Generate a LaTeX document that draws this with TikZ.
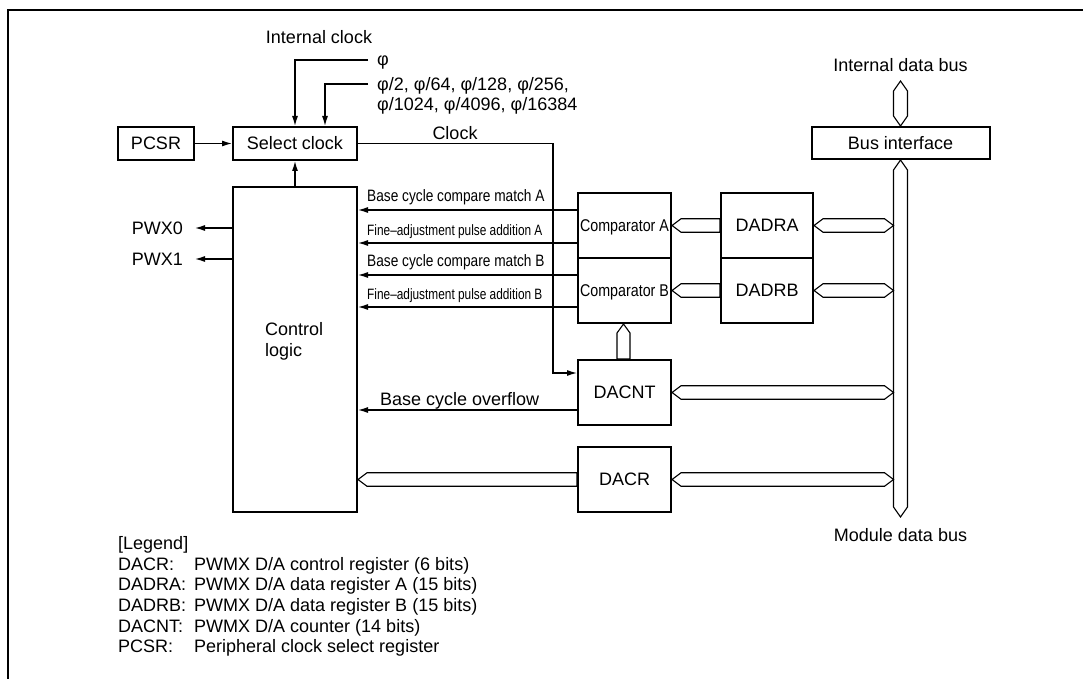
\documentclass[tikz,border=0pt]{standalone}
\usepackage{fontspec}
\setmainfont{Liberation Sans}
\usetikzlibrary{arrows.meta,calc}
\pgfdeclarelayer{bg}
\pgfsetlayers{bg,main}
\newcommand\myfs[1]{\fontsize{#1}{#1}\selectfont}
\newcommand\hbusboth[2]{\draw[bus] (#1) -- ($(#1)+(9,-6.75)$) -- ($(#2)+(-9,-6.75)$) -- (#2) -- ($(#2)+(-9,6.75)$) -- ($(#1)+(9,6.75)$) -- cycle;}
\newcommand\hbusleft[2]{\draw[bus] (#1) -- ($(#1)+(9,-6.75)$) -- ($(#2)+(0,-6.75)$) -- ($(#2)+(0,6.75)$) -- ($(#1)+(9,6.75)$) -- cycle;}
\newcommand\vbusup[2]{\draw[bus] (#1) -- ($(#1)+(6.5,9)$) -- ($(#2)+(6.5,0)$) -- ($(#2)+(-6.5,0)$) -- ($(#1)+(-6.5,9)$) -- cycle;}
\newcommand\vbusboth[2]{\draw[bus] (#1) -- ($(#1)+(7,10)$) -- ($(#2)+(7,-10)$) -- (#2) -- ($(#2)+(-7,-10)$) -- ($(#1)+(-7,10)$) -- cycle;}
\tikzset{
  box/.style={draw, line width=2pt, inner sep=0pt, text height=12.9pt, text depth=0pt, font=\myfs{18}},
  conn/.style={line width=1.2pt},
  arr/.style={conn, -{Latex[length=10pt,width=6pt]}},
  bus/.style={draw, line width=1.1pt, fill=white, line join=miter},
  lbl/.style={inner sep=0pt, font=\myfs{18}},
}
\begin{document}
\begin{tikzpicture}[x=1pt,y=-1pt]
\useasboundingbox (0,0) rectangle (1083,679);
% frame
\draw[line width=2pt] (1095,10) -- (8,10) -- (8,690);

% boxes
\node[box, minimum width=76pt, minimum height=33pt] (pcsr) at (156,143.5) {PCSR};
\node[box, minimum width=124pt, minimum height=33pt] (sel) at (295,143.5) {Select clock};
\node[box, minimum width=178pt, minimum height=32pt] (busif) at (900.5,143) {Bus interface};
\node[box, minimum width=124pt, minimum height=325pt] (ctrl) at (295,349.5) {};
\node[box, minimum width=93pt, minimum height=65pt] (compA) at (624.5,225.5) {\scalebox{0.84}[1]{\myfs{17}Comparator A}};
\node[box, minimum width=93pt, minimum height=65pt] (compB) at (624.5,290.5) {\scalebox{0.84}[1]{\myfs{17}Comparator B}};
\node[box, minimum width=92pt, minimum height=65pt] (dadra) at (767,225.5) {DADRA};
\node[box, minimum width=92pt, minimum height=65pt] (dadrb) at (767,290.5) {DADRB};
\node[box, minimum width=93pt, minimum height=65pt] (dacnt) at (624.5,392.5) {DACNT};
\node[box, minimum width=93pt, minimum height=65pt] (dacr) at (624.5,479.5) {DACR};

% coordinates
\coordinate (busx) at (893.5,0);
\coordinate (mbot) at (900.5,517);
\coordinate (itop) at (900.5,81);
\coordinate (ra) at (busx |- dadra.east);
\coordinate (rb) at (busx |- dadrb.east);
\coordinate (rc) at (busx |- dacnt.east);
\coordinate (rd) at (busx |- dacr.east);
\coordinate (cd) at (ctrl.east |- dacr.west);
\coordinate (cbx) at (623.5,0);
\coordinate (cbt) at (cbx |- compB.south);
\coordinate (cbb) at (cbx |- dacnt.north);

% buses
\begin{pgfonlayer}{bg}
\vbusboth{busif.south}{mbot}
\vbusboth{itop}{busif.north}
\hbusboth{dadra.east}{ra}
\hbusboth{dadrb.east}{rb}
\hbusboth{dacnt.east}{rc}
\hbusboth{dacr.east}{rd}
\hbusleft{compA.east}{dadra.west}
\hbusleft{compB.east}{dadrb.west}
\hbusleft{cd}{dacr.west}
\vbusup{cbt}{cbb}
\end{pgfonlayer}

% clock inputs
\coordinate (p1) at (368,60);
\coordinate (p2) at (368,84);
\draw[arr] (p1) -| (sel.north);
\draw[arr] (p2) -| ([xshift=30pt]sel.north);
\draw[arr] (pcsr) -- (sel);
\draw[arr] (ctrl.north) -- (sel.south);
\coordinate (ck) at (553,373);
\draw[arr] (sel.east) -| (ck) -- (dacnt.west |- ck);

% signals to control logic
\draw[arr] (compA.west |- 0,210) -- (ctrl.east |- 0,210);
\draw[arr] (compA.west |- 0,243) -- (ctrl.east |- 0,243);
\draw[arr] (compB.west |- 0,275) -- (ctrl.east |- 0,275);
\draw[arr] (compB.west |- 0,307) -- (ctrl.east |- 0,307);
\draw[arr] (dacnt.west |- 0,410) -- (ctrl.east |- 0,410);

% outputs
\coordinate (w0) at (195,228);
\coordinate (w1) at (195,259);
\draw[arr] (ctrl.west |- w0) -- (w0);
\draw[arr] (ctrl.west |- w1) -- (w1);

% labels
\node[lbl, anchor=base] (intclk) at (319,43.5) {Internal clock};
\node[lbl, anchor=base west] (phi1) at (377,65.5) {φ};
\node[lbl, anchor=base west] (phi2) at (377,90.5) {φ/2, φ/64, φ/128, φ/256,};
\node[lbl, anchor=base west] (phi3) at (377,110.5) {φ/1024, φ/4096, φ/16384};
\node[lbl, anchor=base] (clk) at (455,139.5) {Clock};
\node[lbl, anchor=base] (idb) at (900.5,71.4) {Internal data bus};
\node[lbl, anchor=base] (mdb) at (900.5,541.4) {Module data bus};
\node[lbl, anchor=base west] (ctl1) at (265,335) {Control};
\node[lbl, anchor=base west] (ctl2) at (265,356.5) {logic};
\node[lbl, anchor=base east] (pwx0) at (183,234.4) {PWX0};
\node[lbl, anchor=base east] (pwx1) at (183,265.4) {PWX1};
\node[lbl, anchor=base west] (sa1) at (367,201.7) {\scalebox{0.83}[1]{\myfs{16.5}Base cycle compare match A}};
\node[lbl, anchor=base west] (sa2) at (367,235) {\scalebox{0.79}[1]{\myfs{15}Fine–adjustment pulse addition A}};
\node[lbl, anchor=base west] (sb1) at (367,266.7) {\scalebox{0.83}[1]{\myfs{16.5}Base cycle compare match B}};
\node[lbl, anchor=base west] (sb2) at (367,299) {\scalebox{0.79}[1]{\myfs{15}Fine–adjustment pulse addition B}};
\node[lbl, anchor=base west] (ovf) at (380,405) {Base cycle overflow};

% legend
\node[lbl, anchor=base west] (lg0) at (118,549.4) {[Legend]};
\node[lbl, anchor=base west] (lg1a) at (118,570.2) {DACR:};
\node[lbl, anchor=base west] (lg1b) at (194,570.2) {PWMX D/A control register (6 bits)};
\node[lbl, anchor=base west] (lg2a) at (118,590.8) {DADRA:};
\node[lbl, anchor=base west] (lg2b) at (194,590.8) {PWMX D/A data register A (15 bits)};
\node[lbl, anchor=base west] (lg3a) at (118,611.4) {DADRB:};
\node[lbl, anchor=base west] (lg3b) at (194,611.4) {PWMX D/A data register B (15 bits)};
\node[lbl, anchor=base west] (lg4a) at (118,632) {DACNT:};
\node[lbl, anchor=base west] (lg4b) at (194,632) {PWMX D/A counter (14 bits)};
\node[lbl, anchor=base west] (lg5a) at (118,652.6) {PCSR:};
\node[lbl, anchor=base west] (lg5b) at (194,652.6) {Peripheral clock select register};
\end{tikzpicture}
\end{document}
